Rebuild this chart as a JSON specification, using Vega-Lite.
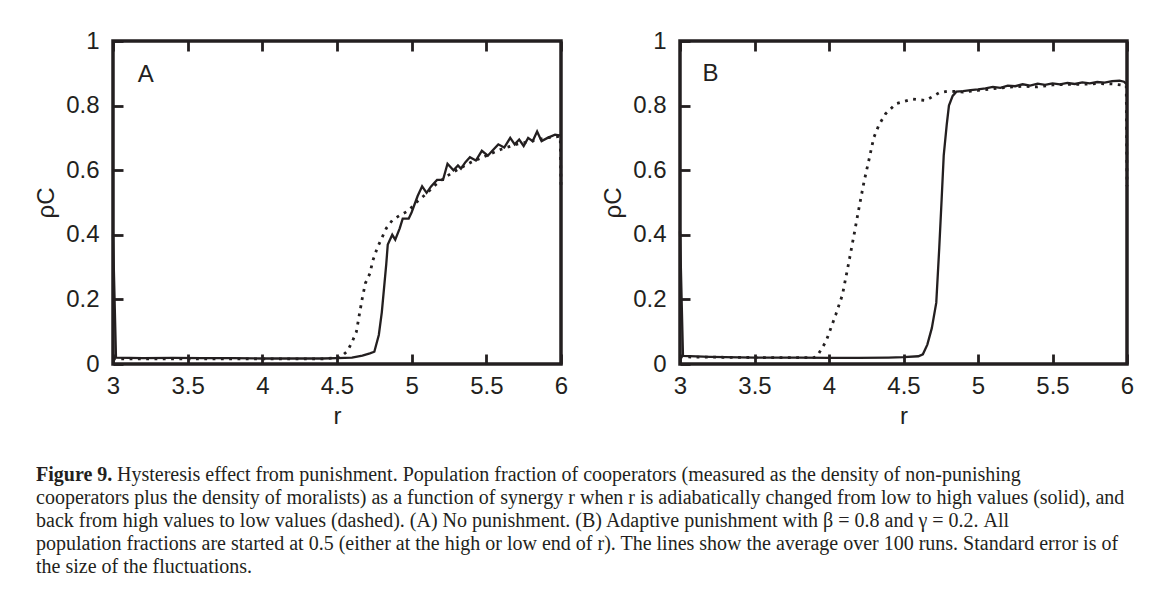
{
  "$schema": "https://vega.github.io/schema/vega-lite/v6.json",
  "background": "white",
  "padding": {"left": 32, "top": 27, "right": 10, "bottom": 8},
  "config": {
    "font": "Liberation Sans",
    "view": {"stroke": "#231f20", "strokeWidth": 3.5},
    "axis": {
      "domain": false,
      "grid": false,
      "tickSize": -10,
      "tickWidth": 2.8,
      "tickColor": "#231f20",
      "labelFont": "Liberation Sans",
      "labelFontSize": 24,
      "labelColor": "#231f20",
      "labelFlush": false,
      "labelOverlap": false,
      "labelBound": false,
      "titleFont": "Liberation Sans",
      "titleFontSize": 24,
      "titleFontWeight": "normal",
      "titleColor": "#231f20"
    }
  },
  "datasets": {
    "curves": [
      {"p":"A","s":"up","r":3.0,"rho":0.40},{"p":"A","s":"up","r":3.02,"rho":0.02},{"p":"A","s":"up","r":3.2,"rho":0.018},{"p":"A","s":"up","r":3.4,"rho":0.019},{"p":"A","s":"up","r":3.6,"rho":0.018},{"p":"A","s":"up","r":3.8,"rho":0.018},{"p":"A","s":"up","r":4.0,"rho":0.017},{"p":"A","s":"up","r":4.2,"rho":0.017},{"p":"A","s":"up","r":4.4,"rho":0.017},{"p":"A","s":"up","r":4.5,"rho":0.018},{"p":"A","s":"up","r":4.6,"rho":0.02},{"p":"A","s":"up","r":4.67,"rho":0.026},{"p":"A","s":"up","r":4.72,"rho":0.033},{"p":"A","s":"up","r":4.75,"rho":0.038},{"p":"A","s":"up","r":4.78,"rho":0.09},{"p":"A","s":"up","r":4.80,"rho":0.16},{"p":"A","s":"up","r":4.83,"rho":0.31},{"p":"A","s":"up","r":4.84,"rho":0.37},{"p":"A","s":"up","r":4.87,"rho":0.40},{"p":"A","s":"up","r":4.89,"rho":0.385},{"p":"A","s":"up","r":4.92,"rho":0.42},{"p":"A","s":"up","r":4.94,"rho":0.45},{"p":"A","s":"up","r":4.98,"rho":0.45},{"p":"A","s":"up","r":5.0,"rho":0.47},{"p":"A","s":"up","r":5.04,"rho":0.52},{"p":"A","s":"up","r":5.07,"rho":0.55},{"p":"A","s":"up","r":5.10,"rho":0.53},{"p":"A","s":"up","r":5.13,"rho":0.55},{"p":"A","s":"up","r":5.17,"rho":0.57},{"p":"A","s":"up","r":5.21,"rho":0.57},{"p":"A","s":"up","r":5.24,"rho":0.62},{"p":"A","s":"up","r":5.28,"rho":0.60},{"p":"A","s":"up","r":5.31,"rho":0.615},{"p":"A","s":"up","r":5.33,"rho":0.605},{"p":"A","s":"up","r":5.36,"rho":0.625},{"p":"A","s":"up","r":5.39,"rho":0.64},{"p":"A","s":"up","r":5.43,"rho":0.63},{"p":"A","s":"up","r":5.47,"rho":0.66},{"p":"A","s":"up","r":5.51,"rho":0.645},{"p":"A","s":"up","r":5.54,"rho":0.66},{"p":"A","s":"up","r":5.58,"rho":0.68},{"p":"A","s":"up","r":5.62,"rho":0.67},{"p":"A","s":"up","r":5.66,"rho":0.70},{"p":"A","s":"up","r":5.69,"rho":0.68},{"p":"A","s":"up","r":5.72,"rho":0.695},{"p":"A","s":"up","r":5.75,"rho":0.675},{"p":"A","s":"up","r":5.78,"rho":0.70},{"p":"A","s":"up","r":5.81,"rho":0.69},{"p":"A","s":"up","r":5.84,"rho":0.72},{"p":"A","s":"up","r":5.87,"rho":0.69},{"p":"A","s":"up","r":5.91,"rho":0.70},{"p":"A","s":"up","r":5.96,"rho":0.71},{"p":"A","s":"up","r":6.0,"rho":0.707},
      {"p":"A","s":"down","r":3.0,"rho":0.016},{"p":"A","s":"down","r":3.5,"rho":0.016},{"p":"A","s":"down","r":4.0,"rho":0.016},{"p":"A","s":"down","r":4.4,"rho":0.016},{"p":"A","s":"down","r":4.52,"rho":0.02},{"p":"A","s":"down","r":4.57,"rho":0.04},{"p":"A","s":"down","r":4.60,"rho":0.067},{"p":"A","s":"down","r":4.63,"rho":0.10},{"p":"A","s":"down","r":4.65,"rho":0.154},{"p":"A","s":"down","r":4.67,"rho":0.205},{"p":"A","s":"down","r":4.69,"rho":0.25},{"p":"A","s":"down","r":4.72,"rho":0.28},{"p":"A","s":"down","r":4.74,"rho":0.32},{"p":"A","s":"down","r":4.77,"rho":0.36},{"p":"A","s":"down","r":4.80,"rho":0.39},{"p":"A","s":"down","r":4.83,"rho":0.42},{"p":"A","s":"down","r":4.87,"rho":0.445},{"p":"A","s":"down","r":4.92,"rho":0.46},{"p":"A","s":"down","r":4.98,"rho":0.475},{"p":"A","s":"down","r":5.03,"rho":0.50},{"p":"A","s":"down","r":5.08,"rho":0.52},{"p":"A","s":"down","r":5.16,"rho":0.555},{"p":"A","s":"down","r":5.23,"rho":0.58},{"p":"A","s":"down","r":5.3,"rho":0.60},{"p":"A","s":"down","r":5.4,"rho":0.625},{"p":"A","s":"down","r":5.5,"rho":0.645},{"p":"A","s":"down","r":5.6,"rho":0.665},{"p":"A","s":"down","r":5.7,"rho":0.68},{"p":"A","s":"down","r":5.8,"rho":0.69},{"p":"A","s":"down","r":5.9,"rho":0.70},{"p":"A","s":"down","r":5.995,"rho":0.705},{"p":"A","s":"down","r":6.0,"rho":0.555},
      {"p":"B","s":"up","r":3.0,"rho":0.41},{"p":"B","s":"up","r":3.02,"rho":0.025},{"p":"B","s":"up","r":3.2,"rho":0.022},{"p":"B","s":"up","r":3.5,"rho":0.02},{"p":"B","s":"up","r":3.8,"rho":0.02},{"p":"B","s":"up","r":4.0,"rho":0.019},{"p":"B","s":"up","r":4.2,"rho":0.019},{"p":"B","s":"up","r":4.4,"rho":0.02},{"p":"B","s":"up","r":4.5,"rho":0.021},{"p":"B","s":"up","r":4.6,"rho":0.024},{"p":"B","s":"up","r":4.63,"rho":0.03},{"p":"B","s":"up","r":4.66,"rho":0.06},{"p":"B","s":"up","r":4.69,"rho":0.111},{"p":"B","s":"up","r":4.72,"rho":0.19},{"p":"B","s":"up","r":4.74,"rho":0.36},{"p":"B","s":"up","r":4.756,"rho":0.51},{"p":"B","s":"up","r":4.77,"rho":0.646},{"p":"B","s":"up","r":4.79,"rho":0.74},{"p":"B","s":"up","r":4.805,"rho":0.80},{"p":"B","s":"up","r":4.83,"rho":0.83},{"p":"B","s":"up","r":4.855,"rho":0.843},{"p":"B","s":"up","r":4.9,"rho":0.845},{"p":"B","s":"up","r":4.95,"rho":0.848},{"p":"B","s":"up","r":5.0,"rho":0.85},{"p":"B","s":"up","r":5.05,"rho":0.853},{"p":"B","s":"up","r":5.1,"rho":0.858},{"p":"B","s":"up","r":5.15,"rho":0.855},{"p":"B","s":"up","r":5.2,"rho":0.862},{"p":"B","s":"up","r":5.25,"rho":0.86},{"p":"B","s":"up","r":5.3,"rho":0.866},{"p":"B","s":"up","r":5.35,"rho":0.862},{"p":"B","s":"up","r":5.4,"rho":0.868},{"p":"B","s":"up","r":5.45,"rho":0.864},{"p":"B","s":"up","r":5.5,"rho":0.869},{"p":"B","s":"up","r":5.55,"rho":0.866},{"p":"B","s":"up","r":5.6,"rho":0.87},{"p":"B","s":"up","r":5.65,"rho":0.867},{"p":"B","s":"up","r":5.7,"rho":0.872},{"p":"B","s":"up","r":5.75,"rho":0.869},{"p":"B","s":"up","r":5.8,"rho":0.873},{"p":"B","s":"up","r":5.85,"rho":0.871},{"p":"B","s":"up","r":5.9,"rho":0.876},{"p":"B","s":"up","r":5.95,"rho":0.877},{"p":"B","s":"up","r":5.98,"rho":0.874},{"p":"B","s":"up","r":6.0,"rho":0.865},
      {"p":"B","s":"down","r":3.0,"rho":0.022},{"p":"B","s":"down","r":3.5,"rho":0.02},{"p":"B","s":"down","r":3.9,"rho":0.02},{"p":"B","s":"down","r":3.92,"rho":0.024},{"p":"B","s":"down","r":3.98,"rho":0.07},{"p":"B","s":"down","r":4.045,"rho":0.152},{"p":"B","s":"down","r":4.09,"rho":0.214},{"p":"B","s":"down","r":4.134,"rho":0.317},{"p":"B","s":"down","r":4.168,"rho":0.40},{"p":"B","s":"down","r":4.2,"rho":0.48},{"p":"B","s":"down","r":4.235,"rho":0.564},{"p":"B","s":"down","r":4.27,"rho":0.636},{"p":"B","s":"down","r":4.3,"rho":0.70},{"p":"B","s":"down","r":4.335,"rho":0.74},{"p":"B","s":"down","r":4.38,"rho":0.775},{"p":"B","s":"down","r":4.45,"rho":0.806},{"p":"B","s":"down","r":4.56,"rho":0.82},{"p":"B","s":"down","r":4.65,"rho":0.816},{"p":"B","s":"down","r":4.74,"rho":0.84},{"p":"B","s":"down","r":4.8,"rho":0.845},{"p":"B","s":"down","r":4.9,"rho":0.842},{"p":"B","s":"down","r":5.0,"rho":0.847},{"p":"B","s":"down","r":5.1,"rho":0.852},{"p":"B","s":"down","r":5.2,"rho":0.857},{"p":"B","s":"down","r":5.3,"rho":0.86},{"p":"B","s":"down","r":5.4,"rho":0.858},{"p":"B","s":"down","r":5.5,"rho":0.864},{"p":"B","s":"down","r":5.6,"rho":0.866},{"p":"B","s":"down","r":5.7,"rho":0.866},{"p":"B","s":"down","r":5.8,"rho":0.868},{"p":"B","s":"down","r":5.9,"rho":0.867},{"p":"B","s":"down","r":5.995,"rho":0.862},{"p":"B","s":"down","r":6.0,"rho":0.55}
    ],
    "labels": [
      {"p":"A","r":3.22,"rho":0.895,"label":"A"},
      {"p":"B","r":3.205,"rho":0.898,"label":"B"}
    ],
    "caption": [
      {"part":"bold","line":1,"text":"Figure 9."},
      {"part":"first","line":1,"text":"Hysteresis effect from punishment. Population fraction of cooperators (measured as the density of non-punishing"},
      {"part":"body","line":2,"text":"cooperators plus the density of moralists) as a function of synergy r when r is adiabatically changed from low to high values (solid), and"},
      {"part":"body","line":3,"text":"back from high values to low values (dashed). (A) No punishment. (B) Adaptive punishment with β = 0.8 and γ = 0.2. All"},
      {"part":"body","line":4,"text":"population fractions are started at 0.5 (either at the high or low end of r). The lines show the average over 100 runs. Standard error is of"},
      {"part":"body","line":5,"text":"the size of the fluctuations."}
    ]
  },
  "spacing": 33,
  "vconcat": [
    {
      "spacing": 29,
      "hconcat": [
        {
          "width": 448,
          "height": 323,
          "resolve": {"axis": {"x": "independent"}},
          "layer": [
            {
              "data": {"name": "curves"},
              "transform": [{"filter": "datum.p === 'A' && datum.s === 'up'"}],
              "mark": {"type": "line", "color": "#231f20", "strokeWidth": 2.3},
              "encoding": {
                "x": {"field": "r", "type": "quantitative", "scale": {"domain": [3, 6], "nice": false, "zero": false},
                      "axis": {"orient": "bottom", "title": "r", "values": [3, 3.5, 4, 4.5, 5, 5.5, 6], "format": "~g", "labelPadding": 20, "titlePadding": 6}},
                "y": {"field": "rho", "type": "quantitative", "scale": {"domain": [0, 1], "nice": false},
                      "axis": {"title": "ρC", "values": [0, 0.2, 0.4, 0.6, 0.8, 1], "format": "~g", "labelPadding": 24, "titlePadding": 7}}
              }
            },
            {
              "data": {"name": "curves"},
              "transform": [{"filter": "datum.p === 'A' && datum.s === 'down'"}],
              "mark": {"type": "line", "color": "#231f20", "strokeWidth": 2.8, "strokeDash": [2.8, 5.5]},
              "encoding": {
                "x": {"field": "r", "type": "quantitative", "scale": {"domain": [3, 6], "nice": false, "zero": false},
                      "axis": {"orient": "top", "title": null, "labels": false, "values": [3, 3.5, 4, 4.5, 5, 5.5, 6]}},
                "y": {"field": "rho", "type": "quantitative", "scale": {"domain": [0, 1], "nice": false},
                      "axis": {"title": "ρC", "values": [0, 0.2, 0.4, 0.6, 0.8, 1], "format": "~g", "labelPadding": 24, "titlePadding": 7}}
              }
            },
            {
              "data": {"name": "labels"},
              "transform": [{"filter": "datum.p === 'A'"}],
              "mark": {"type": "text", "fontSize": 24, "color": "#231f20", "font": "Liberation Sans"},
              "encoding": {
                "x": {"field": "r", "type": "quantitative", "axis": null},
                "y": {"field": "rho", "type": "quantitative",
                      "axis": {"title": "ρC", "values": [0, 0.2, 0.4, 0.6, 0.8, 1], "format": "~g", "labelPadding": 24, "titlePadding": 7}},
                "text": {"field": "label"}
              }
            }
          ]
        },
        {
          "width": 447,
          "height": 323,
          "resolve": {"axis": {"x": "independent"}},
          "layer": [
            {
              "data": {"name": "curves"},
              "transform": [{"filter": "datum.p === 'B' && datum.s === 'up'"}],
              "mark": {"type": "line", "color": "#231f20", "strokeWidth": 2.3},
              "encoding": {
                "x": {"field": "r", "type": "quantitative", "scale": {"domain": [3, 6], "nice": false, "zero": false},
                      "axis": {"orient": "bottom", "title": "r", "values": [3, 3.5, 4, 4.5, 5, 5.5, 6], "format": "~g", "labelPadding": 20, "titlePadding": 6}},
                "y": {"field": "rho", "type": "quantitative", "scale": {"domain": [0, 1], "nice": false},
                      "axis": {"title": "ρC", "values": [0, 0.2, 0.4, 0.6, 0.8, 1], "format": "~g", "labelPadding": 24, "titlePadding": 7}}
              }
            },
            {
              "data": {"name": "curves"},
              "transform": [{"filter": "datum.p === 'B' && datum.s === 'down'"}],
              "mark": {"type": "line", "color": "#231f20", "strokeWidth": 2.8, "strokeDash": [2.8, 5.5]},
              "encoding": {
                "x": {"field": "r", "type": "quantitative", "scale": {"domain": [3, 6], "nice": false, "zero": false},
                      "axis": {"orient": "top", "title": null, "labels": false, "values": [3, 3.5, 4, 4.5, 5, 5.5, 6]}},
                "y": {"field": "rho", "type": "quantitative", "scale": {"domain": [0, 1], "nice": false},
                      "axis": {"title": "ρC", "values": [0, 0.2, 0.4, 0.6, 0.8, 1], "format": "~g", "labelPadding": 24, "titlePadding": 7}}
              }
            },
            {
              "data": {"name": "labels"},
              "transform": [{"filter": "datum.p === 'B'"}],
              "mark": {"type": "text", "fontSize": 24, "color": "#231f20", "font": "Liberation Sans"},
              "encoding": {
                "x": {"field": "r", "type": "quantitative", "axis": null},
                "y": {"field": "rho", "type": "quantitative",
                      "axis": {"title": "ρC", "values": [0, 0.2, 0.4, 0.6, 0.8, 1], "format": "~g", "labelPadding": 24, "titlePadding": 7}},
                "text": {"field": "label"}
              }
            }
          ]
        }
      ]
    },
    {
      "width": 1120,
      "height": 115,
      "view": {"stroke": null},
      "data": {"name": "caption"},
      "layer": [
        {
          "transform": [{"filter": "datum.part === 'bold'"}],
          "mark": {"type": "text", "align": "left", "baseline": "middle", "font": "Liberation Serif", "fontSize": 20, "fontWeight": "bold", "color": "#231f20", "dx": -77},
          "encoding": {
            "x": {"datum": 0, "type": "quantitative", "scale": {"domain": [0, 1]}, "axis": null},
            "y": {"field": "line", "type": "quantitative", "scale": {"domain": [0.5, 5.5], "reverse": true}, "axis": null},
            "text": {"field": "text"}
          }
        },
        {
          "transform": [{"filter": "datum.part === 'first'"}],
          "mark": {"type": "text", "align": "left", "baseline": "middle", "font": "Liberation Serif", "fontSize": 20, "color": "#231f20", "dx": 4},
          "encoding": {
            "x": {"datum": 0, "type": "quantitative", "scale": {"domain": [0, 1]}, "axis": null},
            "y": {"field": "line", "type": "quantitative", "scale": {"domain": [0.5, 5.5], "reverse": true}, "axis": null},
            "text": {"field": "text"}
          }
        },
        {
          "transform": [{"filter": "datum.part === 'body'"}],
          "mark": {"type": "text", "align": "left", "baseline": "middle", "font": "Liberation Serif", "fontSize": 20, "color": "#231f20", "dx": -77},
          "encoding": {
            "x": {"datum": 0, "type": "quantitative", "scale": {"domain": [0, 1]}, "axis": null},
            "y": {"field": "line", "type": "quantitative", "scale": {"domain": [0.5, 5.5], "reverse": true}, "axis": null},
            "text": {"field": "text"}
          }
        }
      ]
    }
  ]
}
